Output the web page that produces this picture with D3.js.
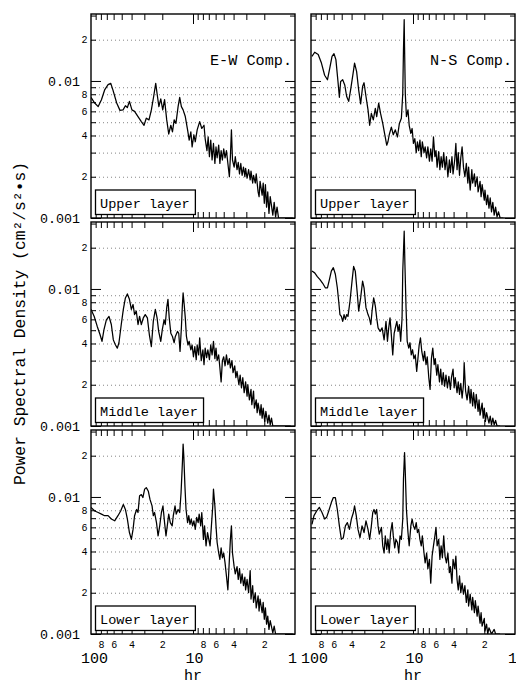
<!DOCTYPE html>
<html>
<head>
<meta charset="utf-8">
<script src="https://cdn.jsdelivr.net/npm/d3@7"></script>
<style>
  body { margin: 0; background: #fff; }
  svg text { font-family: "Liberation Mono", "DejaVu Sans Mono", monospace; fill: #000; }
</style>
</head>
<body>
<div id="chart"></div>
<script>
"use strict";
// spectra: [period (hr), PSD in units of 0.001 cm²/s²·s]
const ewUpper = [[100,7.6],[92,6.9],[85,6.5],[79,7.3],[73.5,8.6],[68,9.4],[64,9.6],[61,8.6],[56,6.9],[52,6.1],[48.5,6.15],[46,6.6],[44,6.4],[42,7.1],[39.7,6.15],[37.4,6.0],[34.6,5.5],[32.1,5.05],[30.2,4.75],[28.7,5.35],[27,5.2],[25.6,6.15],[24.3,7.7],[23.2,9.6],[22.4,7.9],[21.6,6.5],[20.7,7.4],[19.8,6.15],[19.0,7.3],[18.1,5.2],[17.3,4.1],[16.5,4.75],[15.9,4.25],[15.3,5.2],[14.7,4.9],[14.0,6.5],[13.5,7.6],[13.0,6.5],[12.5,6.15],[11.9,5.5],[11.3,4.4],[10.9,3.7],[10.5,4.25],[10.2,3.3],[9.8,4.05],[9.5,3.6],[9.1,4.4],[8.6,5.05],[8.2,4.5],[7.8,4.75],[7.6,3.8],[7.3,3.1],[7.1,3.9],[6.9,2.8],[6.7,3.7],[6.5,2.65],[6.3,3.5],[6.1,2.5],[5.95,3.3],[5.8,2.75],[5.6,3.4],[5.45,2.5],[5.3,3.1],[5.15,2.65],[5.0,3.2],[4.85,2.75],[4.7,3.1],[4.55,2.5],[4.4,2.0],[4.3,2.8],[4.2,4.4],[4.1,2.65],[3.95,2.35],[3.85,2.8],[3.7,2.25],[3.6,2.55],[3.5,2.1],[3.4,2.5],[3.3,2.05],[3.2,2.35],[3.1,2.0],[3.05,2.3],[2.95,1.95],[2.85,2.25],[2.75,1.9],[2.7,2.2],[2.6,1.8],[2.55,2.05],[2.45,1.8],[2.4,2.1],[2.3,1.55],[2.25,1.43],[2.2,1.85],[2.1,1.47],[2.05,1.8],[2.0,1.28],[1.95,1.75],[1.9,1.2],[1.85,1.55],[1.8,1.08],[1.75,1.43],[1.65,1.05],[1.6,1.3],[1.55,1.02],[1.5,1.2],[1.45,0.9],[1.3,0.8],[1.15,0.85],[1.05,0.8]];
const nsUpper = [[97.8,15.1],[92,16.2],[85,15.6],[79,13.5],[73.5,11.0],[69,10.2],[65.6,12.3],[62.2,15.1],[59.5,15.8],[57,14.3],[54.4,9.9],[52.7,7.6],[51.2,9.9],[48.9,10.2],[46.7,9.35],[44.7,7.7],[42.7,7.1],[40.9,8.6],[38.7,11.3],[37.4,13.5],[35.7,11.7],[34.1,8.6],[32.6,6.8],[31.2,9.1],[30.2,9.7],[28.9,7.7],[27.6,6.15],[26.6,4.75],[25.6,5.8],[24.5,5.2],[23.4,6.3],[22.7,5.5],[21.7,6.9],[20.8,5.8],[19.8,4.9],[19.0,4.15],[18.1,3.4],[17.6,3.6],[17.1,4.05],[16.3,4.6],[15.6,4.05],[14.9,4.4],[14.2,3.9],[13.6,4.9],[13.0,5.35],[12.6,8.1],[12.4,16.9],[12.2,28],[12.1,17.8],[11.9,8.1],[11.6,5.5],[11.2,6.15],[10.9,4.75],[10.5,4.15],[10.2,4.5],[9.9,3.5],[9.6,3.8],[9.3,3.0],[9.05,3.6],[8.8,3.1],[8.55,3.7],[8.3,2.8],[8.1,3.6],[7.8,3.0],[7.6,3.3],[7.35,2.75],[7.15,3.3],[6.9,2.6],[6.7,3.2],[6.5,2.6],[6.3,3.9],[6.1,2.8],[5.95,3.1],[5.8,2.35],[5.6,3.05],[5.45,2.25],[5.3,2.8],[5.15,2.35],[5.0,3.0],[4.85,2.25],[4.7,2.8],[4.55,2.0],[4.4,2.65],[4.3,2.15],[4.15,2.8],[4.05,2.1],[3.9,2.65],[3.8,3.5],[3.7,2.25],[3.6,3.0],[3.5,2.05],[3.4,2.75],[3.3,3.3],[3.2,2.35],[3.1,2.0],[3.0,2.5],[2.9,1.8],[2.85,2.35],[2.75,1.6],[2.65,2.25],[2.6,1.8],[2.5,2.1],[2.45,1.7],[2.35,2.0],[2.3,1.55],[2.2,1.85],[2.15,1.43],[2.1,1.75],[2.0,1.35],[1.97,1.6],[1.9,1.25],[1.85,1.47],[1.8,1.18],[1.75,1.4],[1.7,1.11],[1.65,1.3],[1.6,1.05],[1.55,1.2],[1.5,1.02],[1.45,1.11],[1.4,0.94],[1.3,0.9]];
const ewMiddle = [[100,7.1],[93,6.3],[87,5.35],[81.6,4.65],[78,4.15],[74.6,5.05],[70.7,5.95],[66.6,6.3],[63.2,5.5],[60.4,4.25],[57.7,3.92],[55.2,3.7],[53.2,4.05],[50.5,5.5],[48.2,7.1],[46,8.6],[44,9.2],[42,8.4],[40.2,7.1],[38.7,7.7],[37.4,6.5],[36,6.9],[34.6,5.5],[33.4,6.3],[32.1,5.5],[30.7,6.15],[29.4,6.5],[28,6.15],[26.8,4.65],[25.6,3.8],[24.5,5.8],[23.4,7.1],[22.5,6.15],[21.7,4.9],[20.7,4.15],[20,5.05],[19.2,5.95],[18.7,5.5],[18.1,7.3],[17.6,8.4],[17.1,6.15],[16.5,4.75],[15.9,4.5],[15.3,4.05],[14.9,4.5],[14.2,4.9],[13.8,4.75],[13.4,3.5],[13.0,5.2],[12.7,7.7],[12.5,9.35],[12.2,7.7],[11.9,6.15],[11.6,4.5],[11.2,3.9],[10.9,4.15],[10.5,3.6],[10.2,3.9],[9.9,3.2],[9.6,3.8],[9.3,3.05],[9.1,3.9],[8.8,3.3],[8.6,4.4],[8.3,3.0],[8.0,3.6],[7.8,2.8],[7.6,3.7],[7.35,3.15],[7.15,3.6],[6.9,3.05],[6.7,3.9],[6.5,3.3],[6.3,4.15],[6.1,3.1],[5.95,3.7],[5.8,3.0],[5.6,3.3],[5.45,2.65],[5.3,2.1],[5.15,3.0],[5.0,3.2],[4.85,2.75],[4.7,3.3],[4.55,2.8],[4.4,3.1],[4.3,2.65],[4.15,3.0],[4.05,2.45],[3.9,2.75],[3.8,2.25],[3.7,2.5],[3.55,2.0],[3.45,2.35],[3.35,1.9],[3.25,2.25],[3.15,1.75],[3.05,2.1],[2.95,1.65],[2.9,2.0],[2.8,1.55],[2.7,1.85],[2.65,1.43],[2.55,1.8],[2.5,1.35],[2.4,1.55],[2.35,1.25],[2.3,1.47],[2.2,1.2],[2.15,1.43],[2.1,1.14],[2.05,1.35],[1.98,1.08],[1.93,1.28],[1.85,1.05],[1.8,1.2],[1.75,1.02],[1.7,1.14],[1.65,0.9],[1.5,0.85],[1.3,0.8],[1.1,0.85]];
const nsMiddle = [[97.8,13.5],[92,13.1],[86.7,12.3],[81.6,11.7],[76.8,11.0],[72.4,10.2],[69,10.2],[66,11.7],[63.2,13.5],[60.4,14.3],[57.7,12.8],[55.2,10.2],[53.5,8.1],[52,6.5],[50.4,6.3],[48.9,5.8],[47.4,6.5],[46,6.0],[44.7,6.5],[43.4,6.3],[41.5,8.1],[39.6,11.4],[38.2,14.6],[36.8,13.5],[35.1,9.1],[34.1,6.9],[32.6,8.6],[31.2,11.4],[30.2,10.2],[28.9,7.3],[27.6,6.5],[26.8,6.15],[25.9,5.5],[25.2,6.9],[24.3,8.6],[23.4,7.5],[22.7,6.15],[22,5.2],[21,4.9],[20.1,5.2],[19.2,4.25],[18.4,5.8],[17.8,4.15],[17.3,5.2],[16.8,6.15],[16.3,4.6],[15.8,3.3],[15.3,4.75],[14.9,5.2],[14.4,5.8],[14.0,4.9],[13.6,5.5],[13.2,4.15],[12.8,6.15],[12.6,13.5],[12.2,26.4],[12.0,15.1],[11.7,7.3],[11.4,4.15],[11.0,3.7],[10.7,4.05],[10.4,3.3],[10.1,3.6],[9.8,3.1],[9.5,3.3],[9.2,2.5],[8.95,3.1],[8.7,3.9],[8.45,4.4],[8.2,3.5],[7.9,3.0],[7.7,3.5],[7.45,2.8],[7.25,3.2],[7.0,2.25],[6.8,1.85],[6.6,3.1],[6.4,3.7],[6.2,2.8],[6.05,3.1],[5.85,2.35],[5.7,2.8],[5.5,2.1],[5.35,2.6],[5.2,2.0],[5.05,2.45],[4.9,1.95],[4.75,2.35],[4.6,1.9],[4.45,2.3],[4.3,1.85],[4.2,2.25],[4.05,2.6],[3.95,1.9],[3.85,2.25],[3.7,1.75],[3.6,2.1],[3.5,1.7],[3.4,2.05],[3.3,1.6],[3.2,2.0],[3.15,2.9],[3.05,1.8],[2.95,1.55],[2.85,1.95],[2.75,1.47],[2.7,1.85],[2.6,1.4],[2.55,1.75],[2.45,1.35],[2.4,1.7],[2.3,1.28],[2.25,1.55],[2.2,1.2],[2.1,1.47],[2.05,1.14],[2.0,1.35],[1.95,1.08],[1.9,1.25],[1.8,1.05],[1.75,1.18],[1.7,1.02],[1.65,1.14],[1.6,1.02],[1.55,1.1],[1.5,0.9],[1.4,0.85]];
const ewLower = [[100,8.4],[92,7.9],[85,7.7],[79,7.5],[73.5,7.3],[68,7.3],[63.2,6.9],[58.6,6.7],[54.4,7.3],[51.2,7.9],[48.2,8.8],[46,8.1],[44,6.9],[42,5.5],[40.2,4.9],[38.7,5.8],[37.4,7.3],[35.7,8.1],[34.6,7.7],[33.4,10.2],[32.1,10.4],[31,9.9],[29.8,11.4],[28.7,11.7],[27.4,11.0],[26.4,9.6],[25.2,8.6],[24.5,7.3],[23.8,7.7],[22.8,6.5],[22.0,5.2],[21.2,6.15],[20.4,7.7],[19.7,8.6],[19.0,6.5],[18.4,5.2],[17.8,6.3],[17.3,7.5],[16.7,6.5],[16.0,6.15],[15.6,7.3],[15.0,8.6],[14.6,7.5],[14.0,8.1],[13.5,7.7],[13.1,10.7],[12.7,17.8],[12.5,24.3],[12.3,19.7],[12.0,12.0],[11.7,8.1],[11.3,6.5],[11.0,7.3],[10.7,6.3],[10.4,6.9],[10.1,6.15],[9.8,6.7],[9.5,5.8],[9.2,7.1],[8.9,6.5],[8.7,7.5],[8.4,6.15],[8.2,7.7],[7.9,4.9],[7.7,6.15],[7.45,4.4],[7.2,5.5],[7.0,4.9],[6.8,4.4],[6.6,6.15],[6.4,8.6],[6.3,11.4],[6.1,8.6],[5.95,6.15],[5.8,4.65],[5.6,3.9],[5.45,3.5],[5.3,4.25],[5.15,3.6],[5.0,3.9],[4.85,3.3],[4.7,2.65],[4.55,2.1],[4.4,3.5],[4.3,4.9],[4.2,6.15],[4.1,3.9],[3.95,3.1],[3.85,2.75],[3.7,3.1],[3.6,2.5],[3.5,3.0],[3.4,2.35],[3.3,2.75],[3.2,2.25],[3.1,2.6],[3.05,2.1],[2.95,2.5],[2.85,2.0],[2.75,2.9],[2.7,1.8],[2.6,2.25],[2.55,1.7],[2.45,2.0],[2.4,1.55],[2.3,1.9],[2.25,1.47],[2.2,1.8],[2.1,1.43],[2.05,1.7],[2.0,1.28],[1.95,1.55],[1.9,1.18],[1.85,1.35],[1.8,1.08],[1.75,1.25],[1.65,1.02],[1.6,1.14],[1.55,0.97],[1.4,0.9],[1.2,0.85],[1.05,0.8]];
const nsLower = [[97.8,6.3],[93.5,7.3],[88,7.9],[82.9,8.4],[78,7.7],[73.5,6.9],[70.3,7.1],[67,7.9],[63.2,9.1],[60.4,9.9],[57.7,9.9],[55.2,8.1],[52.7,6.15],[50.4,4.9],[48.2,5.05],[46,6.15],[44,6.5],[42,5.8],[40.2,6.9],[38.4,7.7],[37.4,8.6],[36,7.3],[34.6,5.8],[33.1,5.05],[31.6,6.15],[30.2,5.5],[28.9,6.7],[27.6,5.8],[26.6,4.9],[25.6,6.15],[24.8,7.7],[24.1,8.1],[23.4,7.5],[22.7,8.1],[22.0,6.15],[21.4,5.35],[20.4,6.0],[19.8,4.4],[19.2,3.9],[18.7,5.2],[18.1,4.15],[17.6,4.9],[17.1,3.9],[16.6,5.5],[16.0,6.5],[15.6,5.2],[15.1,4.25],[14.7,4.9],[14.2,4.65],[13.8,3.9],[13.4,5.2],[13.0,4.9],[12.6,6.9],[12.4,13.5],[12.1,21.1],[11.9,15.1],[11.6,8.1],[11.2,5.5],[10.9,4.4],[10.5,6.15],[10.2,6.9],[9.9,6.15],[9.6,5.8],[9.3,6.5],[9.05,5.5],[8.8,5.8],[8.55,4.9],[8.3,4.4],[8.1,5.2],[7.8,3.9],[7.6,3.3],[7.35,3.9],[7.15,3.0],[6.9,3.5],[6.7,2.35],[6.5,3.7],[6.3,4.4],[6.1,5.2],[5.95,6.0],[5.8,4.4],[5.6,4.9],[5.45,3.5],[5.3,4.4],[5.15,3.6],[5.0,5.2],[4.85,3.7],[4.7,3.3],[4.55,3.9],[4.4,2.8],[4.3,3.1],[4.15,2.35],[4.05,3.5],[3.9,3.0],[3.8,3.7],[3.7,2.5],[3.6,2.1],[3.5,2.65],[3.4,2.0],[3.3,2.35],[3.2,1.95],[3.1,2.25],[3.0,1.7],[2.9,2.1],[2.85,1.6],[2.75,1.95],[2.65,1.5],[2.6,1.85],[2.5,1.43],[2.45,1.75],[2.35,1.35],[2.3,1.6],[2.2,1.2],[2.15,1.43],[2.1,1.14],[2.0,1.3],[1.97,1.05],[1.9,1.18],[1.85,1.0],[1.8,1.11],[1.7,0.97],[1.6,1.08],[1.55,0.94],[1.4,0.9]];

const layerNames = ["Upper layer", "Middle layer", "Lower layer"];
const compNames = ["E-W Comp.", "N-S Comp."];

const yMinorTicks = [0.002, 0.003, 0.004, 0.005, 0.006, 0.007, 0.008, 0.009, 0.02, 0.03];
const yMajorTicks = [0.001, 0.01];
const yGridValues = [0.002, 0.003, 0.004, 0.005, 0.006, 0.007, 0.008, 0.009, 0.02];
const yBigLabels = [0.001, 0.01];
const ySmallLabels = [0.002, 0.004, 0.006, 0.008, 0.02];
const xMinorTicks = [90, 80, 70, 60, 50, 40, 30, 20, 9, 8, 7, 6, 5, 4, 3, 2];
const xMajorTicks = [10];
const xSmallLabels = [80, 60, 40, 20, 8, 6, 4, 2];
const xBigLabels = [100, 10, 1];

const W = 516, H = 685;
const colX = [91, 311], rowY = [14, 222, 430];
const pw = 204, ph = 204;

const svg = d3.select("#chart").append("svg").attr("width", W).attr("height", H);

const spectra = [[ewUpper, nsUpper], [ewMiddle, nsMiddle], [ewLower, nsLower]];

// small helper: axis with no domain line
function addAxis(axis, tx, ty) {
  return svg.append("g")
    .attr("transform", `translate(${tx},${ty})`)
    .call(axis)
    .call(g => g.select(".domain").remove())
    .call(g => g.selectAll("line").attr("stroke", "#000").attr("stroke-width", 1));
}

spectra.forEach((rowData, r) => rowData.forEach((series, c) => {
  const x0 = colX[c], y0 = rowY[r];
  const x = d3.scaleLog().domain([100, 1]).range([x0, x0 + pw]);
  const y = d3.scaleLog().domain([0.001, 0.0308]).range([y0 + ph, y0]).clamp(true);

  //dotted horizontal grid
  addAxis(d3.axisLeft(y).tickValues(yGridValues).tickSize(-pw).tickFormat(""), x0, 0)
    .selectAll("line").attr("stroke", "#666").attr("stroke-width", 0.8).attr("stroke-dasharray", "1,3");

  //the spectrum
  const clipId = "clip" + r + c;
  svg.append("clipPath").attr("id", clipId).append("rect")
    .attr("x", x0).attr("y", y0).attr("width", pw).attr("height", ph);
  svg.append("path")
    .datum(series)
    .attr("clip-path", `url(#${clipId})`)
    .attr("fill", "none")
    .attr("stroke", "#000")
    .attr("stroke-width", 1.25)
    .attr("stroke-linejoin", "round")
    .attr("d", d3.line().x(d => x(d[0])).y(d => y(d[1] * 1e-3)));

  //inward ticks on all four sides
  addAxis(d3.axisLeft(y).tickValues(yMinorTicks).tickSize(-5).tickFormat(""), x0, 0);
  addAxis(d3.axisLeft(y).tickValues(yMajorTicks).tickSize(-10).tickFormat(""), x0, 0);
  addAxis(d3.axisRight(y).tickValues(yMinorTicks).tickSize(-5).tickFormat(""), x0 + pw, 0);
  addAxis(d3.axisRight(y).tickValues(yMajorTicks).tickSize(-10).tickFormat(""), x0 + pw, 0);
  addAxis(d3.axisTop(x).tickValues(xMinorTicks).tickSize(-6).tickFormat(""), 0, y0);
  addAxis(d3.axisTop(x).tickValues(xMajorTicks).tickSize(-10).tickFormat(""), 0, y0);
  addAxis(d3.axisBottom(x).tickValues(xMinorTicks).tickSize(-6).tickFormat(""), 0, y0 + ph);
  addAxis(d3.axisBottom(x).tickValues(xMajorTicks).tickSize(-10).tickFormat(""), 0, y0 + ph);

  //frame
  svg.append("rect")
    .attr("x", x0).attr("y", y0).attr("width", pw).attr("height", ph)
    .attr("fill", "none").attr("stroke", "#000").attr("stroke-width", 1.4);

  //layer label box
  const label = layerNames[r];
  const bw = label.length * 8.17 + 10;
  svg.append("rect")
    .attr("x", x0 + 4.5).attr("y", y0 + ph - 28).attr("width", bw).attr("height", 24.5)
    .attr("fill", "#fff").attr("stroke", "#000").attr("stroke-width", 1.3);
  svg.append("text")
    .attr("x", x0 + 9).attr("y", y0 + ph - 10.5)
    .style("font-size", "13.6px")
    .text(label);

  if (r === 0) {
    svg.append("text")
      .attr("x", x0 + pw - 3).attr("y", y0 + 51)
      .attr("text-anchor", "end")
      .style("font-size", "15.2px")
      .text(compNames[c]);
  }

  //y labels on the left column
  if (c === 0) {
    addAxis(d3.axisLeft(y).tickValues(yBigLabels).tickSize(0).tickPadding(11)
      .tickFormat(d => d === 0.01 ? "0.01" : "0.001"), x0, 0)
      .selectAll("text").style("font-size", "13.3px").style("font-family", null);
    addAxis(d3.axisLeft(y).tickValues(ySmallLabels).tickSize(0).tickPadding(3.5)
      .tickFormat(d => String(Math.round(d / Math.pow(10, Math.floor(Math.log10(d) + 1e-9))))), x0, 0)
      .selectAll("text").style("font-size", "10px").style("font-family", null);
  }

  //x labels on the bottom row
  if (r === 2) {
    addAxis(d3.axisBottom(x).tickValues(xSmallLabels).tickSize(0).tickPadding(7)
      .tickFormat(d => String(d >= 10 ? d / 10 : d)), 0, y0 + ph)
      .selectAll("text").style("font-size", "10px").style("font-family", null);
    addAxis(d3.axisBottom(x).tickValues(xBigLabels).tickSize(0).tickPadding(18.5)
      .tickFormat(d3.format("d")), 0, y0 + ph)
      .selectAll("text").style("font-size", "15px").style("font-family", null)
      .attr("dx", d => d === 1 ? -3 : (d === 100 ? 3 : 1));
    svg.append("text")
      .attr("x", x(10)).attr("y", 680)
      .attr("text-anchor", "middle")
      .style("font-size", "15px")
      .text("hr");
  }
}));

// shared y title
svg.append("text")
  .attr("transform", "translate(25,323.5) rotate(-90)")
  .attr("text-anchor", "middle")
  .attr("textLength", 323)
  .attr("lengthAdjust", "spacingAndGlyphs")
  .style("font-size", "16.5px")
  .text("Power Spectral Density (cm²/s²•s)");
</script>
</body>
</html>
